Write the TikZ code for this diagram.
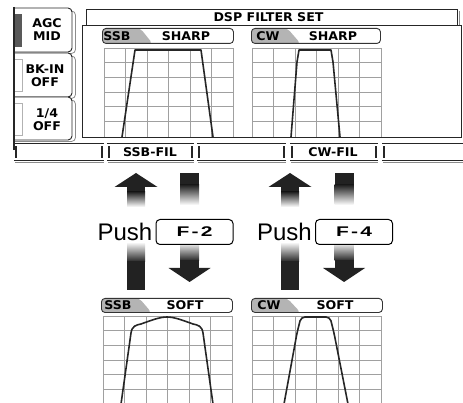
\documentclass[tikz,border=0pt]{standalone}
\usepackage{fontspec}
\usepackage{graphicx}
\setmainfont{Liberation Sans}
\newfontfamily\lcdfont{DejaVu Sans}[FakeStretch=1.05]
\usetikzlibrary{positioning}
\definecolor{lcdgray}{HTML}{B4B4B4}
\definecolor{gridgray}{HTML}{A0A0A0}
\definecolor{arrowdark}{HTML}{222222}

% shaded push arrows (centre x)
\newcommand{\pushup}[1]{%
  \fill[arrowdark] (#1-21.5,187) -- (#1,173) -- (#1+21.5,187) -- cycle;
  \fill[arrowdark] (#1-9,186.5) rectangle (#1+9,192.5);
  \shade[top color=arrowdark, bottom color=white] (#1-9,192) rectangle (#1+9,207);
  \shade[top color=white, bottom color=arrowdark] (#1-9,242) rectangle (#1+9,262);
  \fill[arrowdark] (#1-9,261.5) rectangle (#1+9,290);
}
\newcommand{\pushdown}[1]{%
  \fill[arrowdark] (#1-9.5,173) rectangle (#1+9.5,185.5);
  \shade[top color=arrowdark, bottom color=white] (#1-9.5,185) rectangle (#1+9.5,205);
  \shade[top color=white, bottom color=arrowdark] (#1-9.5,242) rectangle (#1+9.5,261);
  \fill[arrowdark] (#1-9.5,260.5) rectangle (#1+9.5,268.5);
  \fill[arrowdark] (#1-21,268) -- (#1+21,268) -- (#1,282) -- cycle;
}

\begin{document}
\begin{tikzpicture}[x=1pt, y=-1pt,
  lcd/.style={font=\lcdfont\bfseries\fontsize{12}{13}\selectfont, inner sep=0pt, align=center},
  frameline/.style={draw=black!85, line width=0.9pt},
  shadowline/.style={draw=black!45, line width=0.8pt},
  gridline/.style={draw=gridgray, line width=0.8pt},
  curve/.style={draw=black!85, line width=1.6pt, line join=round},
  tab/.style 2 args={draw=black!80, line width=0.9pt, rounded corners=3.5pt,
    minimum height=15pt, inner sep=0pt, anchor=north west,
    path picture={\fill[lcdgray] (path picture bounding box.north west)
      -- ([xshift=#1]path picture bounding box.north west)
      -- ([xshift=#2]path picture bounding box.south west)
      -- (path picture bounding box.south west) -- cycle;}},
  fkey/.style={draw, line width=1pt, rounded corners=4pt, fill=white,
    minimum width=77pt, minimum height=25pt, inner sep=0pt,
    font=\bfseries\fontsize{14}{14}\selectfont},
  push/.style={font=\fontsize{24}{24}\selectfont, inner sep=0pt},
]
  \useasboundingbox (0,0) rectangle (463,403);

  % soft keys on the left
  \foreach \t/\b in {8/52, 53/97, 97/140} {
    \draw[shadowline, rounded corners=4pt] (14,\t+3) -- (75.5,\t+3) -- (75.5,\b+1.5) -- (14,\b+1.5);
    \draw[frameline, fill=white, rounded corners=4pt] (14,\t) -- (72,\t) -- (72,\b) -- (14,\b);
  }
  \fill[black!65] (15,14) rectangle (22,47);
  \draw[black!30, line width=0.6pt] (14,59) rectangle (22,91);
  \draw[black!30, line width=0.6pt] (14,103) rectangle (22,135);
  \draw[black!85, line width=1.4pt] (14,7) -- (14,150);
  \node[lcd] (agc) at (47,30) {AGC\\MID};
  \node[lcd] (bkin) at (45,76) {BK-IN\\OFF};
  \node[lcd] (quarter) at (47,119.5) {1/4\\OFF};

  % DSP filter set frame
  \draw[frameline] (86,25) -- (86,9) -- (457,9) -- (457,25);
  \draw[shadowline] (459.5,11) -- (459.5,25);
  \draw[frameline] (82,25) rectangle (461,137);
  \draw[shadowline] (463,27) -- (463,137);
  \node[lcd] (dsp) at (268.5,17) {DSP FILTER SET};

  % grids
  \foreach \gx/\gy/\gb in {104/48/137, 252/48/137, 103/316/404, 252/316/404} {
    \foreach \i in {0,...,6}
      \draw[gridline] (\gx+\i*21.5,\gy) -- (\gx+\i*21.5,\gb);
    \foreach \j in {0,...,5}
      \draw[gridline] (\gx,\gy+\j*14.7) -- (\gx+129,\gy+\j*14.7);
  }
  \draw[frameline] (82,137) -- (461,137);

  % passband curves
  \draw[curve] (122,137) -- (135,50) -- (201,50) -- (213,137);
  \draw[curve] (291,137) -- (297,62) -- (299,50) -- (331,50) -- (333,62) -- (340,137);
  \draw[curve] (121,404) -- (131,333) .. controls (132,326) and (136,325) .. (141,324)
    .. controls (152,320) and (160,317) .. (167,317)
    .. controls (174,317) and (182,320) .. (193,324)
    .. controls (198,325) and (202,326) .. (203,333) -- (213,404);
  \draw[curve, rounded corners=4pt] (284,404) -- (297,333) -- (301,317) -- (330,317) -- (334,333) -- (348,404);

  % mode tabs
  \node[tab={38pt}{50pt}, minimum width=131pt] (ssbsharp) at (102,28) {};
  \node[lcd] at ([xshift=15pt]ssbsharp.west) {SSB};
  \node[lcd] at ([xshift=84pt]ssbsharp.west) {SHARP};
  \node[tab={36pt}{49pt}, minimum width=129pt] (cwsharp) at (251,28) {};
  \node[lcd] at ([xshift=17pt]cwsharp.west) {CW};
  \node[lcd] at ([xshift=82pt]cwsharp.west) {SHARP};
  \node[tab={38pt}{50pt}, minimum width=131pt, minimum height=14pt] (ssbsoft) at (101,298) {};
  \node[lcd] at ([xshift=17pt]ssbsoft.west) {SSB};
  \node[lcd] at ([xshift=84pt]ssbsoft.west) {SOFT};
  \node[tab={36pt}{49pt}, minimum width=131pt, minimum height=14pt] (cwsoft) at (251,298) {};
  \node[lcd] at ([xshift=18pt]cwsoft.west) {CW};
  \node[lcd] at ([xshift=84pt]cwsoft.west) {SOFT};

  % function key bar
  \foreach \a/\b in {14/104, 107/194, 197/286, 290/378, 382/470} {
    \draw[frameline] (\a,143) -- (\b,143);
    \draw[frameline] (\a,160) -- (\b,160);
    \draw[shadowline] (\a+1,162.5) -- (\b,162.5);
    \fill[black!85] (\a+1,146) rectangle (\a+3.2,158);
    \fill[black!85] (\b-3.2,146) rectangle (\b-1,158);
  }
  \node[lcd] (ssbfil) at (150,152) {SSB-FIL};
  \node[lcd] (cwfil) at (333,152) {CW-FIL};

  % push arrows
  \pushup{136}
  \pushdown{189.5}
  \pushup{290}
  \pushdown{344}

  % keys
  \node[fkey] (ftwo) at (194.5,232) {\scalebox{1.5}[1]{F\kern1.5pt-\kern1.5pt2}};
  \node[push, left=3pt of ftwo] (pushtwo) {Push};
  \node[fkey] (ffour) at (354,232) {\scalebox{1.5}[1]{F\kern1.5pt-\kern1.5pt4}};
  \node[push, left=3pt of ffour] (pushfour) {Push};
\end{tikzpicture}
\end{document}
